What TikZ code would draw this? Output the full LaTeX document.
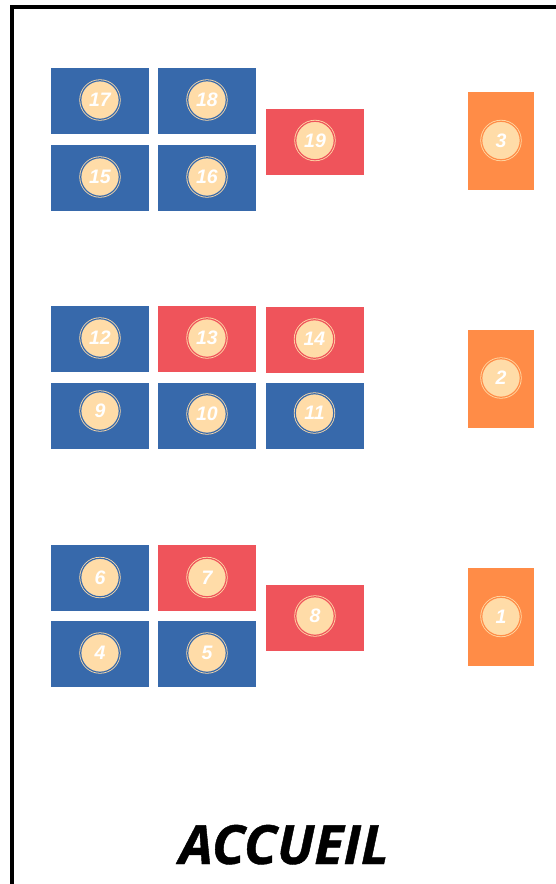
\documentclass[tikz,border=0pt]{standalone}
\usepackage{fontspec}
\setmainfont{Open Sans}
\newfontfamily\numfont{Liberation Sans}
\newfontfamily\accfont[FakeBold=0.8]{Open Sans}
\definecolor{tblue}{HTML}{3769AB}
\definecolor{tred}{HTML}{EF545B}
\definecolor{torange}{HTML}{FF8C47}
\definecolor{peach}{HTML}{FFDCA8}
\tikzset{
  tbl/.style={inner sep=0pt, minimum width=98pt, minimum height=66pt},
  tblv/.style={inner sep=0pt, minimum width=66pt, minimum height=98pt},
  tb/.style={tbl, fill=tblue},
  tr/.style={tbl, fill=tred},
  tov/.style={tblv, fill=torange},
  seat/.style={circle, inner sep=0pt, minimum size=38.5pt, fill=peach, draw=peach,
    line width=0.8pt, double distance=1.2pt, text=white,
    font=\numfont\fontsize{19.5}{19.5}\selectfont\bfseries\itshape},
  seatb/.style={seat, double=tblue},
  seatr/.style={seat, double=tred},
  seato/.style={seat, double=torange},
  wall/.style={line width=3.6pt, black}
}
\begin{document}
\begin{tikzpicture}[x=1pt, y=-1pt]
\useasboundingbox (0,0) rectangle (555,884);
% walls
\coordinate (wb) at (12,886);
\coordinate (wc) at (12,7);
\coordinate (wr) at (557,7);
\draw[wall] (wb) -- (wc) -- (wr);
% tables group 1
\node[tb] (t17) at (100,101) {};
\node[tb] (t18) at (207,101) {};
\node[tb] (t15) at (100,178) {};
\node[tb] (t16) at (207,178) {};
\node[tr] (t19) at (315,142) {};
\node[tov] (t3) at (501,141) {};
% group 2
\node[tb] (t12) at (100,339) {};
\node[tr] (t13) at (207,339) {};
\node[tr] (t14) at (315,339.5) {};
\node[tb] (t9) at (100,416) {};
\node[tb] (t10) at (207,416) {};
\node[tb] (t11) at (315,416) {};
\node[tov] (t2) at (501,379) {};
% group 3
\node[tb] (t6) at (100,577.5) {};
\node[tr] (t7) at (207,577.5) {};
\node[tr] (t8) at (315,617.5) {};
\node[tb] (t4) at (100,654) {};
\node[tb] (t5) at (207,654) {};
\node[tov] (t1) at (501,617) {};
% seats
\node[seatb] (c17) at (100,100) {17};
\node[seatb] (c18) at (207,100) {18};
\node[seatb] (c15) at (100,177) {15};
\node[seatb] (c16) at (207,177) {16};
\node[seatr] (c19) at (315,140.5) {19};
\node[seato] (c3) at (501,140.5) {3};
\node[seatb] (c12) at (100,338) {12};
\node[seatr] (c13) at (207,338) {13};
\node[seatr] (c14) at (314.5,339) {14};
\node[seatb] (c9) at (100,411) {9};
\node[seatb] (c10) at (207,414) {10};
\node[seatb] (c11) at (314.5,413) {11};
\node[seato] (c2) at (501,378) {2};
\node[seatb] (c6) at (100,577.5) {6};
\node[seatr] (c7) at (207,577.5) {7};
\node[seatr] (c8) at (315,616) {8};
\node[seatb] (c4) at (100,653) {4};
\node[seatb] (c5) at (207,653) {5};
\node[seato] (c1) at (501,616.5) {1};
% label
\node[font=\accfont\fontsize{54}{54}\selectfont\bfseries\itshape, anchor=base, inner sep=0pt] (acc) at (284,864) {ACCUEIL};
\end{tikzpicture}
\end{document}
